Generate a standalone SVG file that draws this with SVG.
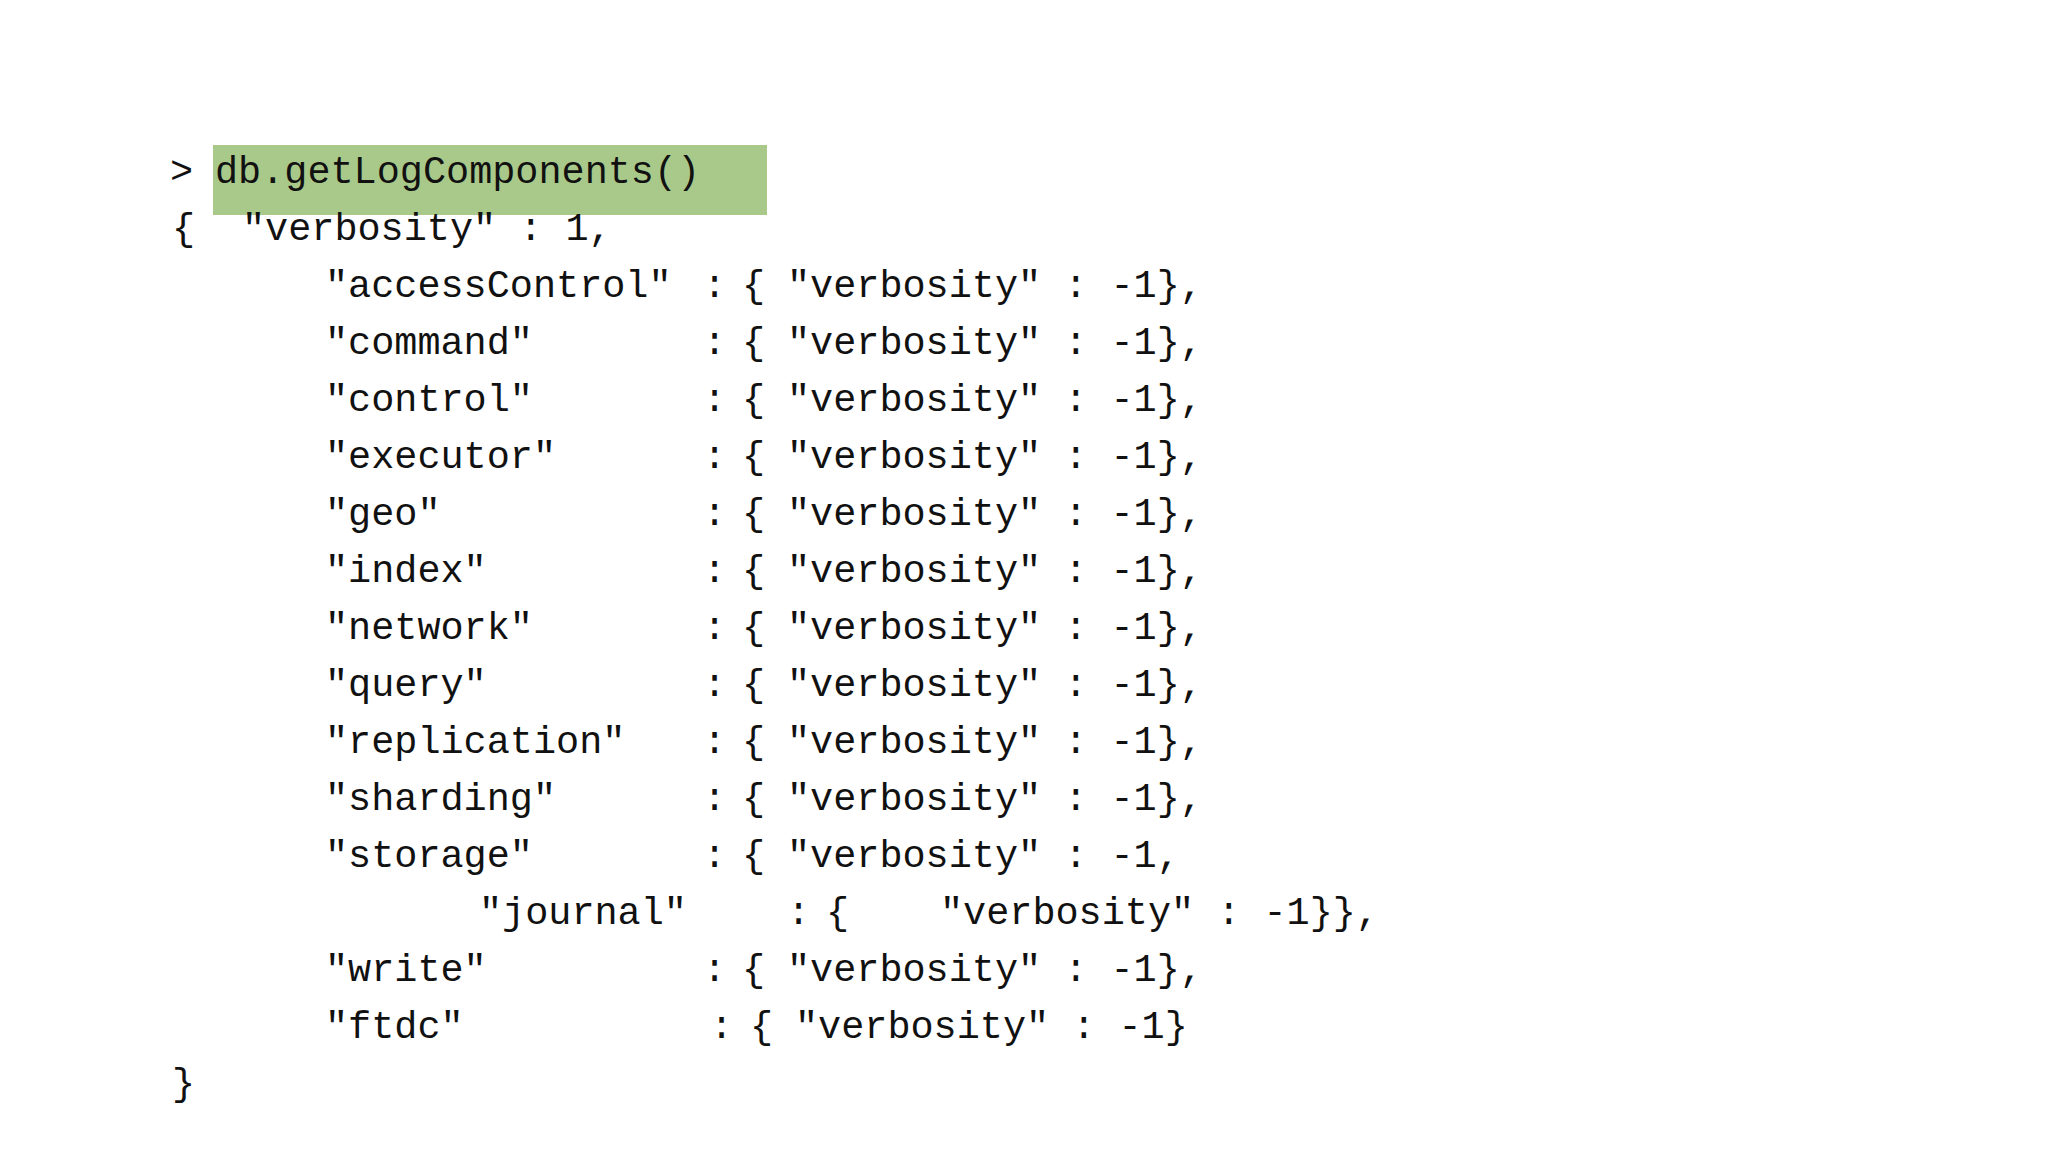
<svg xmlns="http://www.w3.org/2000/svg" width="2048" height="1153" viewBox="0 0 2048 1153">
<style>text{font-family:"Liberation Mono","Courier New",monospace;font-size:38.5px;fill:#111;white-space:pre}</style>
<rect width="2048" height="1153" fill="#fff"/>
<g id="prompt">
<rect x="213" y="145" width="554" height="70" fill="#a9c98a"/>
<text x="170" y="183">&gt;</text>
<text x="215" y="183">db.getLogComponents()</text>
</g>
<g id="output">
<text x="172" y="240">{</text><text x="242" y="240">"verbosity" : 1,</text>
<g id="rows">
<text x="325" y="297">"accessControl"</text><text x="703" y="297">:</text><text x="742" y="297">{</text><text x="787" y="297">"verbosity" : -1},</text>
<text x="325" y="354">"command"</text><text x="703" y="354">:</text><text x="742" y="354">{</text><text x="787" y="354">"verbosity" : -1},</text>
<text x="325" y="411">"control"</text><text x="703" y="411">:</text><text x="742" y="411">{</text><text x="787" y="411">"verbosity" : -1},</text>
<text x="325" y="468">"executor"</text><text x="703" y="468">:</text><text x="742" y="468">{</text><text x="787" y="468">"verbosity" : -1},</text>
<text x="325" y="525">"geo"</text><text x="703" y="525">:</text><text x="742" y="525">{</text><text x="787" y="525">"verbosity" : -1},</text>
<text x="325" y="582">"index"</text><text x="703" y="582">:</text><text x="742" y="582">{</text><text x="787" y="582">"verbosity" : -1},</text>
<text x="325" y="639">"network"</text><text x="703" y="639">:</text><text x="742" y="639">{</text><text x="787" y="639">"verbosity" : -1},</text>
<text x="325" y="696">"query"</text><text x="703" y="696">:</text><text x="742" y="696">{</text><text x="787" y="696">"verbosity" : -1},</text>
<text x="325" y="753">"replication"</text><text x="703" y="753">:</text><text x="742" y="753">{</text><text x="787" y="753">"verbosity" : -1},</text>
<text x="325" y="810">"sharding"</text><text x="703" y="810">:</text><text x="742" y="810">{</text><text x="787" y="810">"verbosity" : -1},</text>
<text x="325" y="867">"storage"</text><text x="703" y="867">:</text><text x="742" y="867">{</text><text x="787" y="867">"verbosity" : -1,</text>
<text x="479" y="924">"journal"</text><text x="787" y="924">:</text><text x="826" y="924">{</text><text x="940" y="924">"verbosity" : -1}},</text>
<text x="325" y="981">"write"</text><text x="703" y="981">:</text><text x="742" y="981">{</text><text x="787" y="981">"verbosity" : -1},</text>
<text x="325" y="1038">"ftdc"</text><text x="710" y="1038">:</text><text x="750" y="1038">{</text><text x="795" y="1038">"verbosity" : -1}</text>
</g>
<text x="172" y="1095">}</text>
</g>
</svg>
